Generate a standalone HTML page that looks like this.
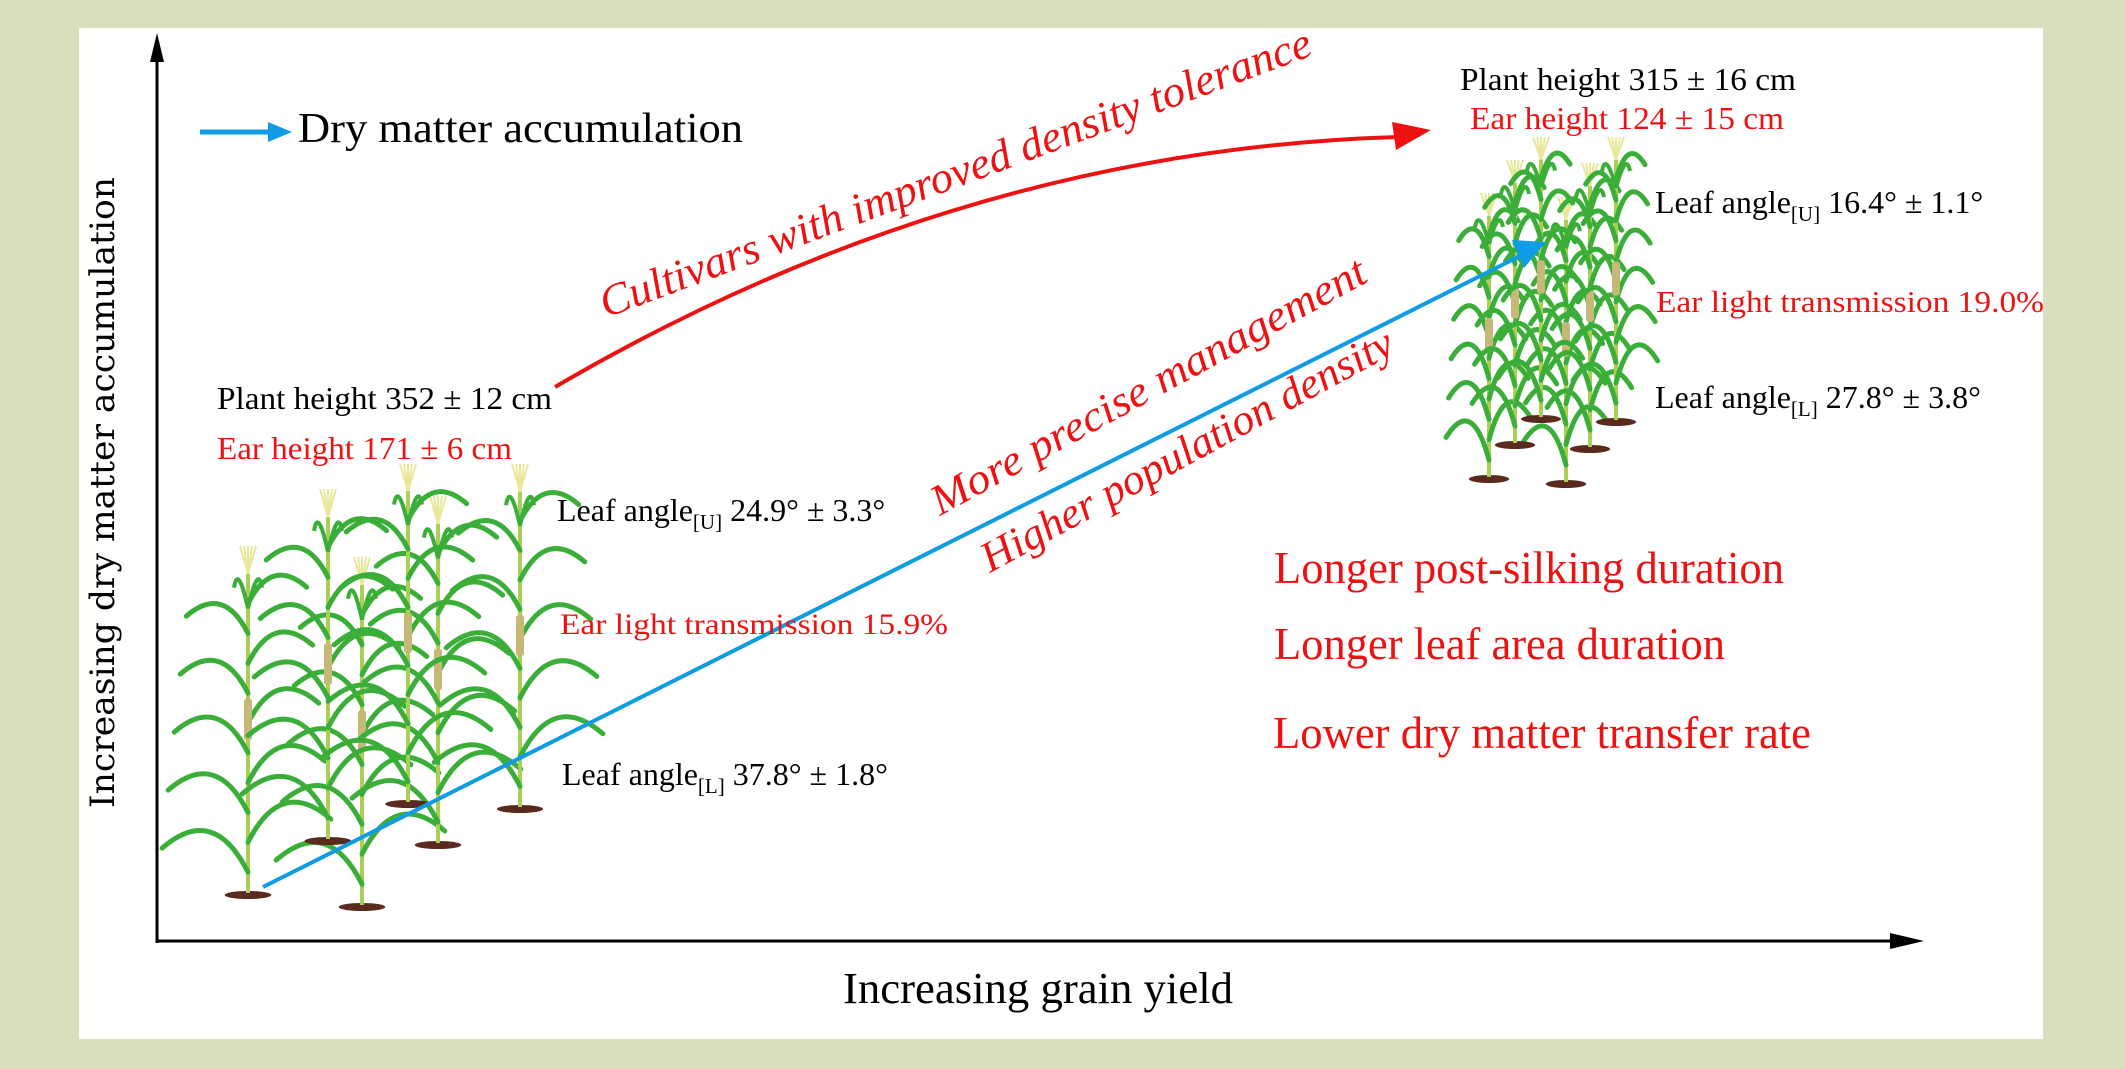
<!DOCTYPE html>
<html><head><meta charset="utf-8">
<style>
html,body{margin:0;padding:0;background:#d9dfbd;}
svg{display:block;}
text{font-family:"Liberation Serif",serif;}
</style></head>
<body>
<svg width="2125" height="1069" viewBox="0 0 2125 1069" xmlns="http://www.w3.org/2000/svg">
<rect x="0" y="0" width="2125" height="1069" fill="#d9dfbd"/>
<rect x="79" y="28" width="1964" height="1011" fill="#fff"/>
<g id="plants"></g>
<!-- axes -->
<line x1="157" y1="943" x2="157" y2="58" stroke="#000" stroke-width="3"/>
<path d="M150,62 L157,33 L164,62 z" fill="#000"/>
<line x1="156" y1="941" x2="1895" y2="941" stroke="#000" stroke-width="3"/>
<path d="M1890,933 L1924,941 L1890,949 z" fill="#000"/>
<text x="0" y="0" transform="translate(114,808) rotate(-90)" font-size="34" textLength="631" lengthAdjust="spacingAndGlyphs" style="font-family:'DejaVu Serif',serif">Increasing dry matter accumulation</text>
<text x="843" y="1003" font-size="44" textLength="390" lengthAdjust="spacingAndGlyphs">Increasing grain yield</text>
<!-- legend -->
<line x1="200" y1="132" x2="272" y2="132" stroke="#0f9be6" stroke-width="5"/>
<path d="M268,122 L292,132 L268,142 z" fill="#0f9be6"/>
<text x="298" y="142" font-size="42" textLength="445" lengthAdjust="spacingAndGlyphs">Dry matter accumulation</text>
<!-- red arrow -->
<path d="M555,387 Q960,150 1398,137" fill="none" stroke="#ee1111" stroke-width="4"/>
<path d="M1392,122 L1431,130 L1396,150 z" fill="#ee1111"/>
<text x="0" y="0" transform="translate(606,318) rotate(-20.4)" font-size="44" font-style="italic" fill="#ee1111" textLength="756" lengthAdjust="spacingAndGlyphs">Cultivars with improved density tolerance</text>
<!-- blue arrow -->
<line x1="263" y1="887" x2="1520" y2="256" stroke="#0f9be6" stroke-width="4"/>
<path d="M1512,240 L1546,242 L1524,268 z" fill="#0f9be6"/>
<text x="0" y="0" transform="translate(940,516) rotate(-28.7)" font-size="43" font-style="italic" fill="#ee1111" textLength="490" lengthAdjust="spacingAndGlyphs">More precise management</text>
<text x="0" y="0" transform="translate(990,573) rotate(-28.5)" font-size="43" font-style="italic" fill="#ee1111" textLength="463" lengthAdjust="spacingAndGlyphs">Higher population density</text>
<!-- left annotations -->
<text x="217" y="409" font-size="32" textLength="335" lengthAdjust="spacingAndGlyphs">Plant height 352 ± 12 cm</text>
<text x="217" y="459" font-size="32" fill="#ee1111" textLength="295" lengthAdjust="spacingAndGlyphs">Ear height 171 ± 6 cm</text>
<text x="557" y="521" font-size="32">Leaf angle<tspan font-size="21" dy="8">[U]</tspan><tspan dy="-8"> 24.9° ± 3.3°</tspan></text>
<text x="560" y="634" font-size="30" fill="#ee1111" textLength="388" lengthAdjust="spacingAndGlyphs">Ear light transmission 15.9%</text>
<text x="562" y="785" font-size="32">Leaf angle<tspan font-size="21" dy="8">[L]</tspan><tspan dy="-8"> 37.8° ± 1.8°</tspan></text>
<!-- right annotations -->
<text x="1460" y="90" font-size="32" textLength="336" lengthAdjust="spacingAndGlyphs">Plant height 315 ± 16 cm</text>
<text x="1470" y="129" font-size="32" fill="#ee1111" textLength="314" lengthAdjust="spacingAndGlyphs">Ear height 124 ± 15 cm</text>
<text x="1655" y="213" font-size="32">Leaf angle<tspan font-size="21" dy="8">[U]</tspan><tspan dy="-8"> 16.4° ± 1.1°</tspan></text>
<text x="1656" y="312" font-size="31" fill="#ee1111" textLength="388" lengthAdjust="spacingAndGlyphs">Ear light transmission 19.0%</text>
<text x="1655" y="408" font-size="32">Leaf angle<tspan font-size="21" dy="8">[L]</tspan><tspan dy="-8"> 27.8° ± 3.8°</tspan></text>
<!-- traits -->
<text x="1274" y="583" font-size="46" fill="#ee1111" textLength="510" lengthAdjust="spacingAndGlyphs">Longer post-silking duration</text>
<text x="1274" y="659" font-size="46" fill="#ee1111" textLength="451" lengthAdjust="spacingAndGlyphs">Longer leaf area duration</text>
<text x="1273" y="748" font-size="46" fill="#ee1111" textLength="538" lengthAdjust="spacingAndGlyphs">Lower dry matter transfer rate</text>
</svg>
<script>
const leftBaseX=[248,362,328,438,408,520];
const leftBaseY=[893,905,839,843,802,807];
const leftTopY=[546,557,489,496,464,464];
const rightBaseX=[1489,1566,1515,1590,1541,1616];
const rightBaseY=[477,482,443,447,417,420];
const rightTopY=[193,197,160,163,137,137];
const NS='http://www.w3.org/2000/svg';
const g=document.getElementById('plants');
function mk(tag,attrs,parent){const e=document.createElementNS(NS,tag);for(const k in attrs)e.setAttribute(k,attrs[k]);parent.appendChild(e);return e;}
function plant(x,yb,yt,spread,rise,n,idx,side){
  const pg=mk('g',{},g);
  
  
  const h=yb-yt;
  mk('ellipse',{cx:x,cy:yb+2,rx:h*0.05+6,ry:4,fill:'#5a2a1e'},pg);
  mk('line',{x1:x,y1:yb,x2:x,y2:yt+h*0.08,stroke:'#a9cf55','stroke-width':4},pg);
  for(let i=0;i<n;i++){
    const f=0.06+i*(0.86/n);
    const y=yb-h*f;
    const s=(i%2?1:-1);
    const L=spread*(1-f*0.4);
    const d='M'+x+','+y+' Q'+(x+s*L*0.4)+','+(y-L*rise)+' '+(x+s*L)+','+(y-L*rise*0.35);
    mk('path',{d:d,fill:'none',stroke:'#3aae38','stroke-width':5,'stroke-linecap':'round'},pg);
  }
  mk('path',{d:'M'+x+','+(yt+h*0.18)+' Q'+(x-10)+','+(yt+h*0.05)+' '+(x-14)+','+(yt+h*0.12),fill:'none',stroke:'#3aae38','stroke-width':4},pg);
  mk('path',{d:'M'+x+','+(yt+h*0.18)+' Q'+(x+10)+','+(yt+h*0.05)+' '+(x+14)+','+(yt+h*0.12),fill:'none',stroke:'#3aae38','stroke-width':4},pg);
  for(let k=-2;k<=2;k++){
    mk('line',{x1:x,y1:yt+h*0.08,x2:x+k*4,y2:yt,stroke:'#e8e89a','stroke-width':2},pg);
  }
  mk('rect',{x:x-4,y:yb-h*0.56,width:8,height:h*0.12,rx:3,fill:'#c6b877'},pg);
}
for(let i=0;i<leftBaseX.length;i++) plant(leftBaseX[i],leftBaseY[i],leftTopY[i],88,0.8,10,i,'left');
for(let i=0;i<rightBaseX.length;i++) plant(rightBaseX[i],rightBaseY[i],rightTopY[i],44,1.5,12,i,'right');
</script>
</body></html>
